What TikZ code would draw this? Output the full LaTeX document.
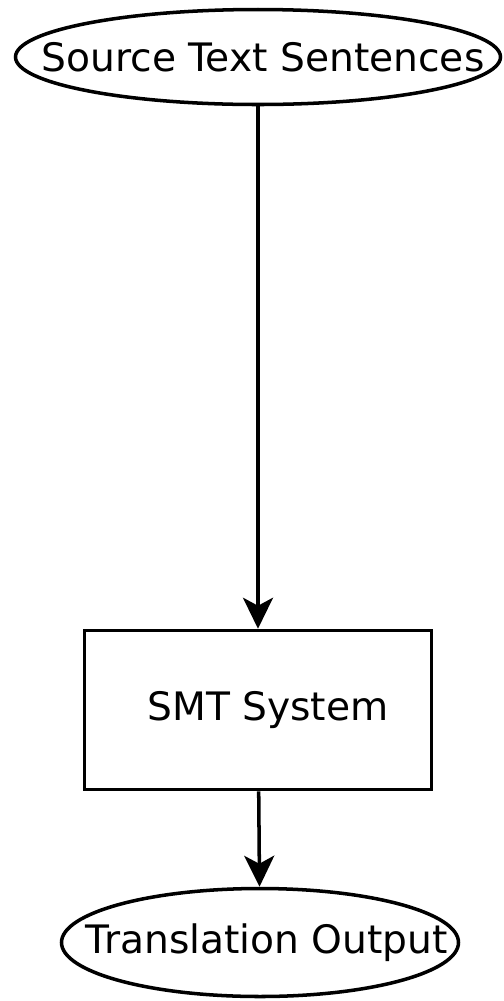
\documentclass[tikz,border=0pt]{standalone}
\usepackage{fontspec}
\setmainfont{DejaVu Sans}
\usetikzlibrary{shapes.geometric,arrows.meta}

\begin{document}
\begin{tikzpicture}[
  every node/.style={font=\fontsize{22.3}{26}\selectfont, line width=2pt, inner sep=0pt},
  flow/.style={draw, line width=2pt, -{Stealth[length=0.62cm,width=0.6cm,inset=0.16cm]}}]
\useasboundingbox (0,0) rectangle (10.08,-20.02);

% ellipse size is fixed, the label is kept out of the shape's size
\node[draw, ellipse, minimum width=9.7cm, minimum height=1.9cm] (src) at (5.16,-1.14) {\makebox[0pt]{\hspace*{0.2cm}Source Text Sentences}};
\node[draw, rectangle, minimum width=6.94cm, minimum height=3.18cm] (smt) at (5.16,-14.2) {\hspace*{0.4cm}SMT System};
\node[draw, ellipse, minimum width=7.94cm, minimum height=2.16cm] (out) at (5.2,-18.85) {\makebox[0pt]{\hspace*{0.28cm}Translation Output}};

\path[flow] (src) -- (smt);
\path[flow] (smt) -- (out);
\end{tikzpicture}
\end{document}
